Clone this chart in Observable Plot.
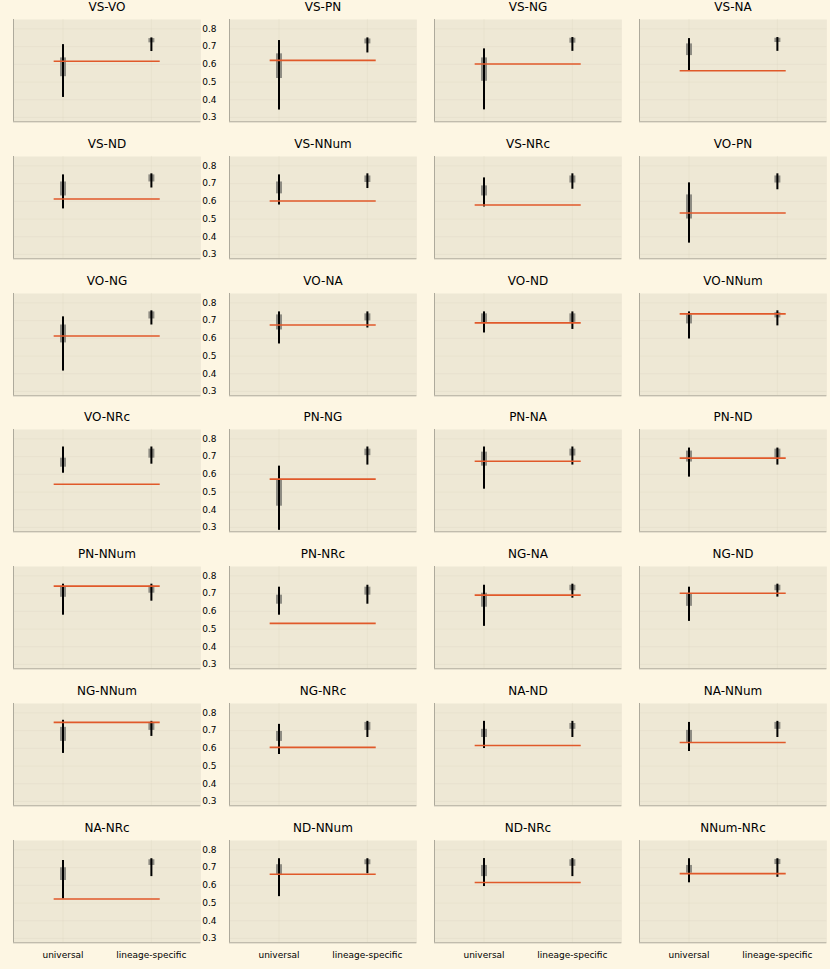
<!DOCTYPE html>
<html>
<head>
<meta charset="utf-8">
<script src="https://cdn.jsdelivr.net/npm/d3@7"></script>
<script src="https://cdn.jsdelivr.net/npm/@observablehq/plot@0.6"></script>
<style>
  html, body { margin: 0; padding: 0; background: #fdf6e3; }
  #chart { position: relative; width: 830px; height: 969px; background: #fdf6e3; overflow: hidden; font-family: "DejaVu Sans", sans-serif; }
  .ttl { position: absolute; text-align: center; font-size: 12px; line-height: 16px; color: #000; white-space: nowrap; }
  #chart svg { position: absolute; }
</style>
</head>
<body>
<div id="chart"></div>
<script>
// ---- data ----
const panels = ["VS-VO","VS-PN","VS-NG","VS-NA","VS-ND","VS-NNum","VS-NRc","VO-PN","VO-NG","VO-NA","VO-ND","VO-NNum","VO-NRc","PN-NG","PN-NA","PN-ND","PN-NNum","PN-NRc","NG-NA","NG-ND","NG-NNum","NG-NRc","NA-ND","NA-NNum","NA-NRc","ND-NNum","ND-NRc","NNum-NRc"];
const categories = ["universal", "lineage-specific"];
const categoryPos = [0.5, 1.5];
const refSpan = [0.4, 1.6];

const univMin = [0.413,0.342,0.343,0.564, 0.557,0.579,0.568,0.364, 0.415,0.568,0.630,0.596, 0.606,0.284,0.516,0.584, 0.578,0.578,0.515,0.543, 0.571,0.565,0.599,0.582, 0.523,0.536,0.593,0.614];
const univQ1  = [0.530,0.520,0.504,0.649, 0.630,0.642,0.630,0.500, 0.574,0.647,0.687,0.681, 0.640,0.420,0.646,0.669, 0.679,0.640,0.623,0.628, 0.639,0.639,0.661,0.633, 0.627,0.655,0.649,0.668];
const univQ3  = [0.636,0.659,0.636,0.715, 0.709,0.709,0.687,0.636, 0.675,0.732,0.738,0.732, 0.691,0.567,0.725,0.731, 0.736,0.691,0.702,0.696, 0.718,0.695,0.707,0.701, 0.699,0.716,0.712,0.712];
const univMax = [0.711,0.734,0.687,0.745, 0.749,0.749,0.732,0.704, 0.721,0.749,0.749,0.749, 0.754,0.646,0.754,0.748, 0.753,0.736,0.747,0.736, 0.758,0.735,0.752,0.746, 0.740,0.750,0.751,0.750];

const linMin = [0.672,0.664,0.673,0.673, 0.675,0.672,0.668,0.665, 0.675,0.658,0.650,0.670, 0.657,0.652,0.652,0.652, 0.657,0.640,0.674,0.680, 0.667,0.661,0.661,0.661, 0.649,0.665,0.649,0.645];
const linQ1  = [0.721,0.715,0.719,0.723, 0.709,0.706,0.703,0.703, 0.709,0.698,0.690,0.715, 0.691,0.705,0.703,0.691, 0.702,0.691,0.716,0.716, 0.701,0.701,0.707,0.707, 0.712,0.716,0.707,0.717];
const linQ3  = [0.745,0.743,0.747,0.747, 0.749,0.743,0.743,0.743, 0.749,0.738,0.738,0.744, 0.742,0.742,0.742,0.742, 0.742,0.736,0.747,0.747, 0.746,0.746,0.740,0.746, 0.744,0.744,0.744,0.746];
const linMax = [0.749,0.749,0.751,0.751, 0.755,0.755,0.755,0.755, 0.755,0.749,0.749,0.755, 0.754,0.754,0.754,0.748, 0.753,0.747,0.753,0.753, 0.752,0.752,0.752,0.752, 0.750,0.750,0.751,0.750];

const refValue = [0.617,0.622,0.602,0.564, 0.613,0.602,0.579,0.534, 0.613,0.675,0.687,0.738, 0.544,0.573,0.674,0.691, 0.742,0.532,0.691,0.702, 0.746,0.605,0.616,0.633, 0.523,0.662,0.616,0.666];

const yTicks = [0.3, 0.4, 0.5, 0.6, 0.7, 0.8];

// ---- layout ----
const colLeft = [13.3, 229.3, 434.3, 639.3];
const PW = 187.4, PH = 102.3;
const rowTop0 = 19, rowPitch = 136.83;
const xDomain = [-0.06, 2.06];
const yDomain = [0.2757, 0.8527];
const mL = 32, mR = 2, mT = 2, mB = 22;

const chart = document.getElementById("chart");

panels.forEach((name, i) => {
  const r = Math.floor(i / 4), c = i % 4;
  const left = colLeft[c], top = rowTop0 + r * rowPitch;

  const rows = [
    {pos: categoryPos[0], cat: categories[0], min: univMin[i], q1: univQ1[i], q3: univQ3[i], max: univMax[i]},
    {pos: categoryPos[1], cat: categories[1], min: linMin[i], q1: linQ1[i], q3: linQ3[i], max: linMax[i]}
  ];

  const marks = [
    Plot.frame({fill: "#eee8d5", stroke: null}),
    Plot.gridY(yTicks, {stroke: "#d9d3be", strokeOpacity: 0.45, strokeWidth: 0.6}),
    Plot.gridX(categoryPos, {stroke: "#d9d3be", strokeOpacity: 0.45, strokeWidth: 0.6}),
    Plot.ruleX([xDomain[0]], {stroke: "#aeaa9c", strokeWidth: 1}),
    Plot.ruleY([yDomain[0]], {stroke: "#aeaa9c", strokeWidth: 1}),
    Plot.ruleX(rows, {x: "pos", y1: "q1", y2: "q3", stroke: "#7d7b74", strokeWidth: 6, strokeOpacity: 0.85}),
    Plot.ruleX(rows, {x: "pos", y1: "min", y2: "max", stroke: "#000", strokeWidth: 2}),
    Plot.ruleY([refValue[i]], {x1: refSpan[0], x2: refSpan[1], stroke: "#e0592a", strokeWidth: 1.6})
  ];

  if (c === 1) {
    marks.push(Plot.axisY({ticks: yTicks, tickSize: 0, tickPadding: 13, fontSize: 9, label: null,
      tickFormat: d3.format(".1f"), color: "#000"}));
  }
  if (r === 6) {
    marks.push(Plot.axisX({ticks: categoryPos, tickSize: 0, tickPadding: 9, fontSize: 9, color: "#000", label: null,
      tickFormat: d => categories[categoryPos.indexOf(d)]}));
  }

  const svg = Plot.plot({
    width: mL + PW + mR,
    height: mT + PH + mB,
    marginLeft: mL, marginRight: mR, marginTop: mT, marginBottom: mB,
    style: {background: "transparent", overflow: "visible", fontFamily: "DejaVu Sans, sans-serif"},
    x: {type: "linear", domain: xDomain, axis: null, label: null},
    y: {type: "linear", domain: yDomain, axis: null, label: null},
    marks
  });
  svg.style.left = (left - mL) + "px";
  svg.style.top = (top - mT) + "px";
  chart.appendChild(svg);

  const t = document.createElement("div");
  t.className = "ttl";
  t.textContent = name;
  t.style.left = left + "px";
  t.style.width = PW + "px";
  t.style.top = (top - 20) + "px";
  chart.appendChild(t);
});
</script>
</body>
</html>
